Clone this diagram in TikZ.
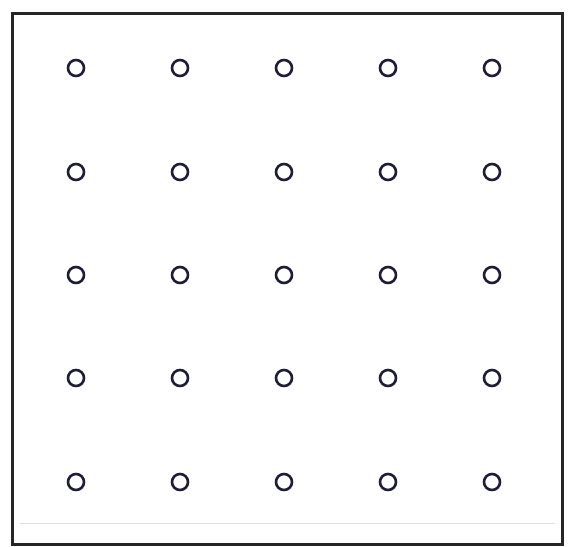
\documentclass[tikz,border=0pt]{standalone}
\begin{document}
\begin{tikzpicture}[x=1pt,y=-1pt,
  ring/.style={circle, draw=ringcol, line width=2.6pt, minimum size=16pt, inner sep=0pt},
  frame/.style={draw=black!85, line width=3pt}]
\definecolor{ringcol}{HTML}{1E1E3A}
\useasboundingbox (0,0) rectangle (569,546);
\fill[white] (0,0) rectangle (569,546);
\draw[frame] (12,13) rectangle (562,544);
\draw[black!12, line width=1pt] (20,523) -- (555,523);
\foreach \c/\x in {1/76,2/180,3/284,4/388,5/492}{
  \foreach \r/\y in {1/68,2/172,3/275,4/378,5/482}{
    \node[ring] (n\r\c) at (\x,\y) {};
  }
}
\end{tikzpicture}
\end{document}
